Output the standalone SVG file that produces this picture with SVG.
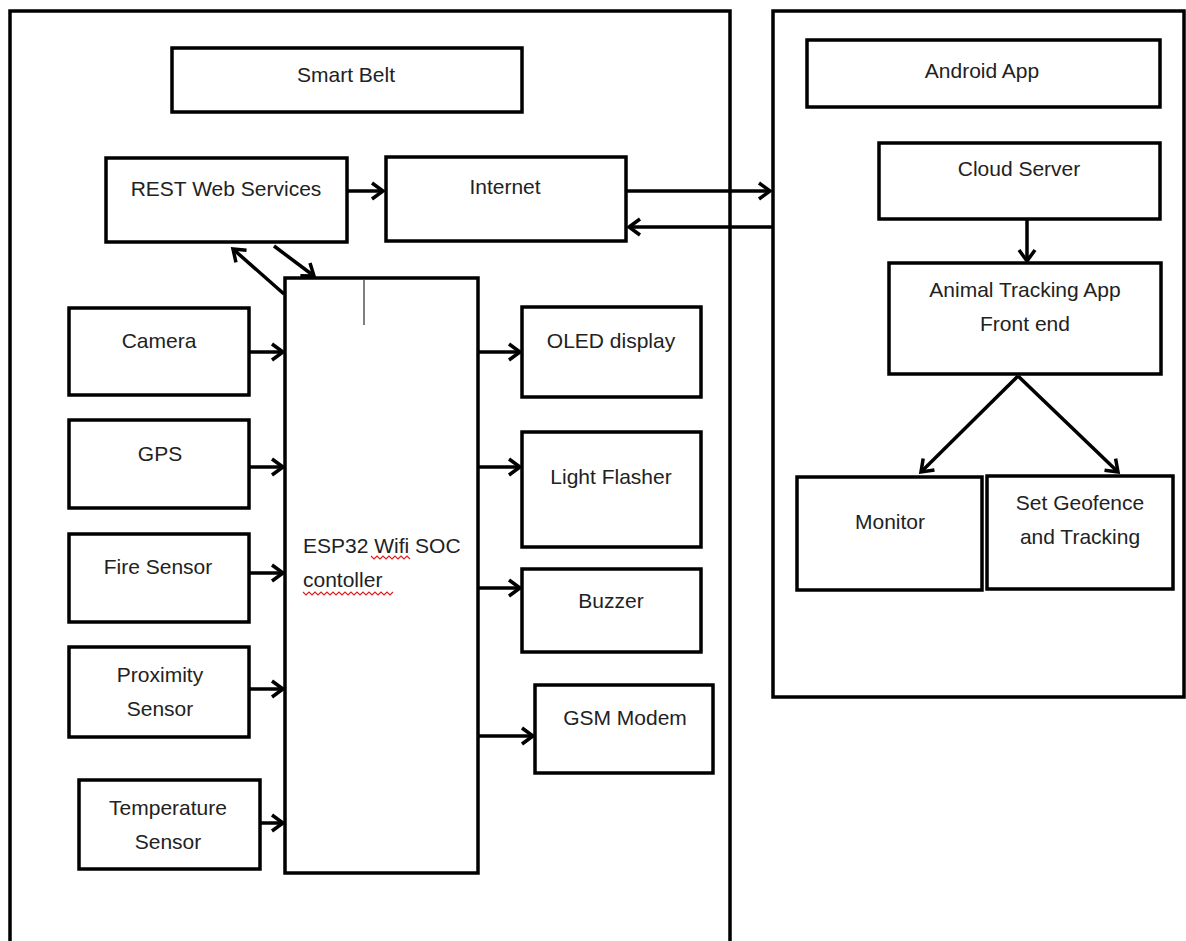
<svg xmlns="http://www.w3.org/2000/svg" width="1186" height="941" viewBox="0 0 1186 941">
<style>
.b{fill:#fff;stroke:#000;stroke-width:3.5}
.f{fill:none;stroke:#000;stroke-width:3.5}
.t{font-family:"Liberation Sans",Arial,sans-serif;font-size:21px;fill:#222;text-anchor:middle}
.ts{font-family:"Liberation Sans",Arial,sans-serif;font-size:21px;fill:#222}
.c{fill:none;stroke:#000;stroke-width:3.5}
.w{fill:none;stroke:#e02020;stroke-width:1.2}
</style>
<defs>
<marker id="a" markerUnits="userSpaceOnUse" markerWidth="18" markerHeight="20" refX="13" refY="9" orient="auto" overflow="visible">
<path d="M2,1 L13,9 L2,17" fill="none" stroke="#000" stroke-width="3.5" stroke-linejoin="miter"/>
</marker>
</defs>
<rect width="1186" height="941" fill="#fff"/>
<g id="smart-belt-frame"><path class="f" d="M10,945 V11 H730 V945"/></g>
<g id="android-frame"><rect class="b" x="773" y="11" width="411" height="686"/></g>

<g id="smart-belt"><rect class="b" x="172" y="48" width="350" height="64"/><text class="t" x="346" y="82">Smart Belt</text></g>
<g id="rest"><rect class="b" x="106" y="158" width="241" height="84"/><text class="t" x="226" y="196">REST Web Services</text></g>
<g id="internet"><rect class="b" x="386" y="157" width="240" height="84"/><text class="t" x="505" y="194">Internet</text></g>
<g id="android-app"><rect class="b" x="807" y="40" width="353" height="67"/><text class="t" x="982" y="78">Android App</text></g>
<g id="cloud"><rect class="b" x="879" y="143" width="281" height="76"/><text class="t" x="1019" y="176">Cloud Server</text></g>
<g id="animal"><rect class="b" x="889" y="263" width="272" height="111"/><text class="t" x="1025" y="297">Animal Tracking App</text><text class="t" x="1025" y="331">Front end</text></g>
<g id="monitor"><rect class="b" x="797" y="477" width="185" height="113"/><text class="t" x="890" y="529">Monitor</text></g>
<g id="geofence"><rect class="b" x="987" y="476" width="186" height="113"/><text class="t" x="1080" y="510">Set Geofence</text><text class="t" x="1080" y="544">and Tracking</text></g>

<g id="esp32"><rect class="b" x="285" y="278" width="193" height="595"/><line x1="364" y1="280" x2="364" y2="325" stroke="#000" stroke-width="1"/><text class="ts" x="303" y="553">ESP32 Wifi SOC</text><text class="ts" x="303" y="587">contoller</text>
<path class="w" d="M371,556 l3,3 l3,-3 l3,3 l3,-3 l3,3 l3,-3 l3,3 l3,-3 l3,3 l3,-3 l3,3 l3,-3 l3,3"/>
<path class="w" d="M303,592 l3,3 l3,-3 l3,3 l3,-3 l3,3 l3,-3 l3,3 l3,-3 l3,3 l3,-3 l3,3 l3,-3 l3,3 l3,-3 l3,3 l3,-3 l3,3 l3,-3 l3,3 l3,-3 l3,3 l3,-3 l3,3 l3,-3 l3,3 l3,-3 l3,3 l3,-3 l3,3 l3,-3"/>
</g>

<g id="camera"><rect class="b" x="69" y="308" width="180" height="87"/><text class="t" x="159" y="348">Camera</text></g>
<g id="gps"><rect class="b" x="69" y="420" width="180" height="88"/><text class="t" x="160" y="461">GPS</text></g>
<g id="fire"><rect class="b" x="69" y="534" width="180" height="88"/><text class="t" x="158" y="574">Fire Sensor</text></g>
<g id="proximity"><rect class="b" x="69" y="647" width="180" height="90"/><text class="t" x="160" y="682">Proximity</text><text class="t" x="160" y="716">Sensor</text></g>
<g id="temperature"><rect class="b" x="79" y="780" width="181" height="89"/><text class="t" x="168" y="815">Temperature</text><text class="t" x="168" y="849">Sensor</text></g>

<g id="oled"><rect class="b" x="522" y="307" width="179" height="90"/><text class="t" x="611" y="348">OLED display</text></g>
<g id="flasher"><rect class="b" x="522" y="432" width="179" height="115"/><text class="t" x="611" y="484">Light Flasher</text></g>
<g id="buzzer"><rect class="b" x="522" y="569" width="179" height="83"/><text class="t" x="611" y="608">Buzzer</text></g>
<g id="gsm"><rect class="b" x="535" y="685" width="178" height="88"/><text class="t" x="625" y="725">GSM Modem</text></g>

<g id="connectors">
<line class="c" x1="347" y1="191" x2="383" y2="191" marker-end="url(#a)"/>
<line class="c" x1="626" y1="191" x2="770" y2="191" marker-end="url(#a)"/>
<line class="c" x1="773" y1="227" x2="629" y2="227" marker-end="url(#a)"/>
<line class="c" x1="1027" y1="219" x2="1027" y2="261" marker-end="url(#a)"/>
<line class="c" x1="1018" y1="376" x2="921" y2="472" marker-end="url(#a)"/>
<line class="c" x1="1018" y1="376" x2="1118" y2="472" marker-end="url(#a)"/>
<line class="c" x1="284" y1="294" x2="233" y2="249" marker-end="url(#a)"/>
<line class="c" x1="274" y1="246" x2="314" y2="276" marker-end="url(#a)"/>
<line class="c" x1="249" y1="352" x2="283" y2="352" marker-end="url(#a)"/>
<line class="c" x1="249" y1="467" x2="283" y2="467" marker-end="url(#a)"/>
<line class="c" x1="249" y1="573" x2="283" y2="573" marker-end="url(#a)"/>
<line class="c" x1="249" y1="689" x2="283" y2="689" marker-end="url(#a)"/>
<line class="c" x1="260" y1="823" x2="283" y2="823" marker-end="url(#a)"/>
<line class="c" x1="478" y1="352" x2="520" y2="352" marker-end="url(#a)"/>
<line class="c" x1="478" y1="467" x2="520" y2="467" marker-end="url(#a)"/>
<line class="c" x1="478" y1="588" x2="520" y2="588" marker-end="url(#a)"/>
<line class="c" x1="478" y1="736" x2="533" y2="736" marker-end="url(#a)"/>
</g>
</svg>
